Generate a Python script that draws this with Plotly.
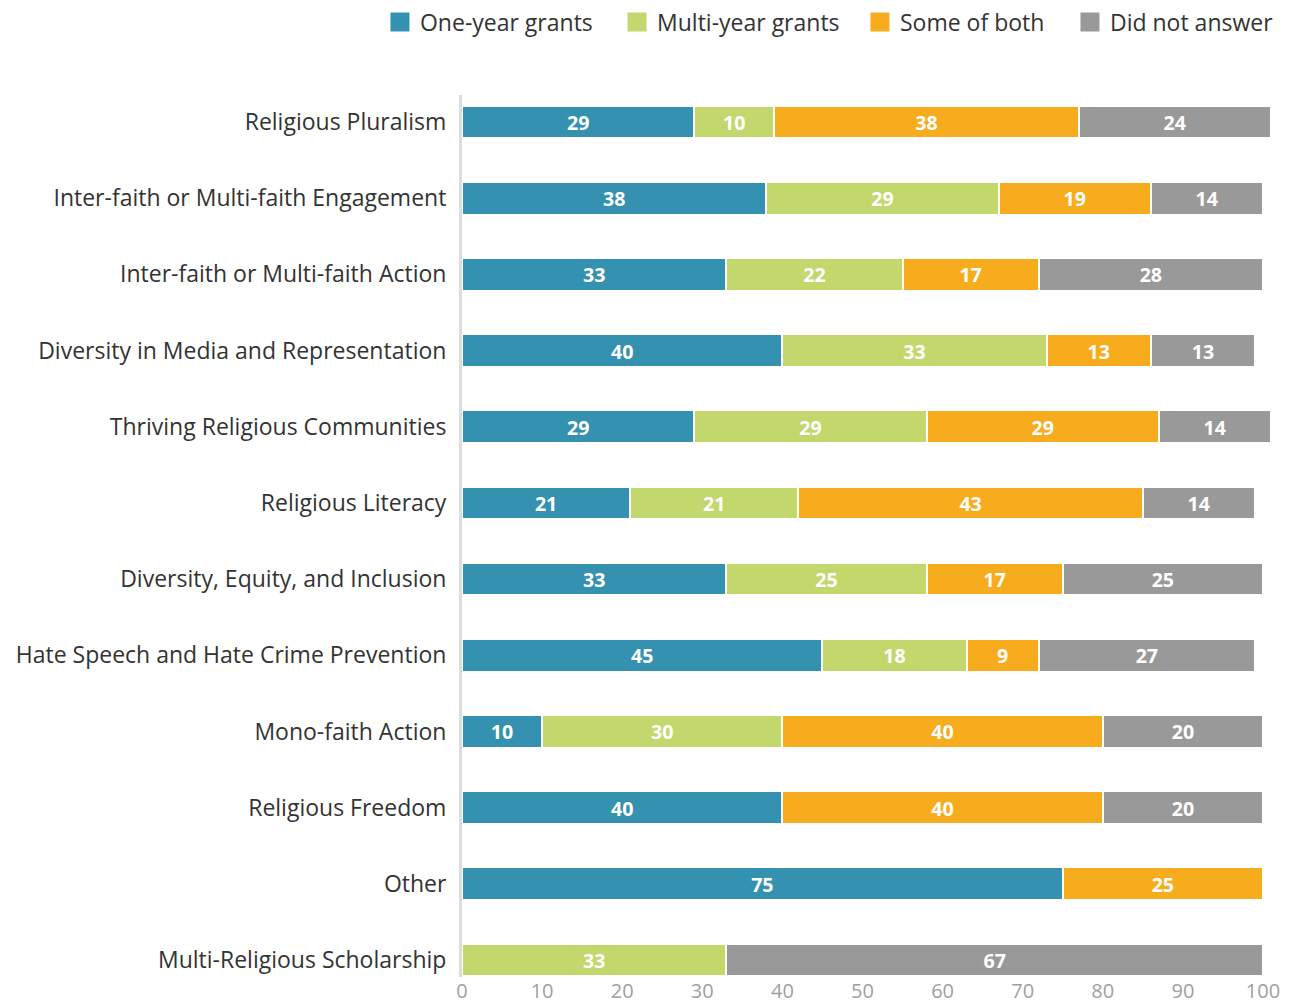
import plotly.graph_objects as go

categories = [
    "Religious Pluralism",
    "Inter-faith or Multi-faith Engagement",
    "Inter-faith or Multi-faith Action",
    "Diversity in Media and Representation",
    "Thriving Religious Communities",
    "Religious Literacy",
    "Diversity, Equity, and Inclusion",
    "Hate Speech and Hate Crime Prevention",
    "Mono-faith Action",
    "Religious Freedom",
    "Other",
    "Multi-Religious Scholarship",
]

one_year = [29, 38, 33, 40, 29, 21, 33, 45, 10, 40, 75, None]
multi_year = [10, 29, 22, 33, 29, 21, 25, 18, 30, None, None, 33]
some_of_both = [38, 19, 17, 13, 29, 43, 17, 9, 40, 40, 25, None]
did_not_answer = [24, 14, 28, 13, 14, 14, 25, 27, 20, 20, None, 67]

x_ticks = [0, 10, 20, 30, 40, 50, 60, 70, 80, 90, 100]

series = [
    ("One-year grants", one_year, "#3591b0"),
    ("Multi-year grants", multi_year, "#c2d86c"),
    ("Some of both", some_of_both, "#f6ac1d"),
    ("Did not answer", did_not_answer, "#999999"),
]

# left edge of each legend entry, in plot-width fractions
legend_x = [-0.1009, 0.1907, 0.4895, 0.7478]
legend_ids = ["legend", "legend2", "legend3", "legend4"]

fig = go.Figure()
for name, vals, color in series:
    fig.add_trace(go.Bar(
        name=name,
        y=categories,
        x=vals,
        orientation="h",
        marker=dict(color=color, line=dict(color="white", width=2)),
        width=0.43,
        texttemplate="%{x}",
        textposition="inside",
        insidetextanchor="middle",
        textangle=0,
        textfont=dict(family="Open Sans", size=22, color="white", weight="bold"),
        hoverinfo="skip",
        showlegend=False,
    ))

# legend entries drawn as larger square swatches, one legend box per entry
for (name, vals, color), lid in zip(series, legend_ids):
    fig.add_trace(go.Scatter(
        name=name,
        x=[None],
        y=[None],
        mode="markers",
        marker=dict(symbol="square", size=16, color=color,
                    line=dict(color=color, width=3)),
        showlegend=True,
        legend=lid,
        hoverinfo="skip",
    ))

legend_style = dict(
    orientation="h",
    xanchor="left",
    y=1.0828,
    yanchor="middle",
    font=dict(size=23, color="#333333"),
    itemsizing="trace",
    itemwidth=30,
    bgcolor="rgba(0,0,0,0)",
)

fig.update_layout(
    barmode="stack",
    width=1293,
    height=1005,
    margin=dict(l=462, r=18, t=95, b=28, autoexpand=False),
    paper_bgcolor="white",
    plot_bgcolor="white",
    font=dict(family="Open Sans", color="#333333"),
    uniformtext=dict(mode="show", minsize=10),
    xaxis=dict(
        range=[0, 101.5],
        tickvals=x_ticks,
        showgrid=False,
        zeroline=False,
        showline=False,
        tickfont=dict(size=20, color="#a0a0a0"),
        ticks="",
        automargin=False,
        fixedrange=True,
    ),
    yaxis=dict(
        categoryorder="array",
        categoryarray=categories,
        range=[11.223, -0.354],
        showgrid=False,
        zeroline=False,
        showline=True,
        linecolor="#dddddd",
        linewidth=3,
        ticks="outside",
        ticklen=8,
        tickcolor="rgba(0,0,0,0)",
        tickfont=dict(size=23, color="#333333"),
        automargin=False,
        fixedrange=True,
    ),
)

for lid, lx in zip(legend_ids, legend_x):
    fig.update_layout({lid: dict(legend_style, x=lx)})

fig.write_html("out.html")
